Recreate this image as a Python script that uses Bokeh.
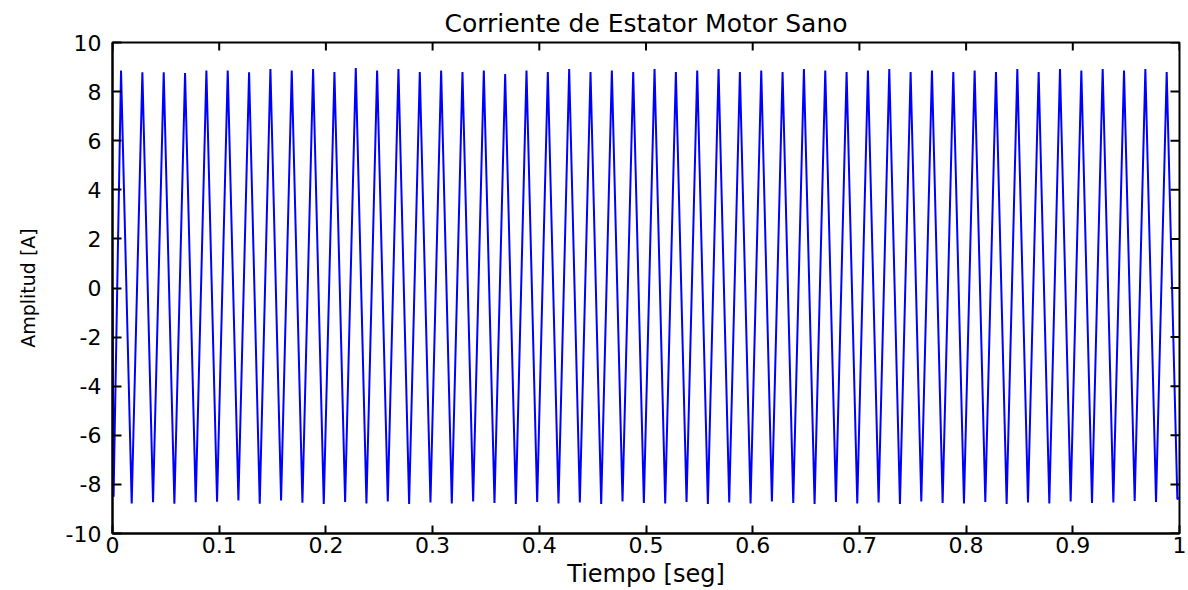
import numpy as np
from bokeh.plotting import figure
from bokeh.models import FixedTicker, Range1d
from bokeh.embed import file_html
from bokeh.resources import INLINE

# ---------------- data ----------------
title_text = "Corriente de Estator Motor Sano"
x_label = "Tiempo [seg]"
y_label = "Amplitud [A]"

x_ticks = [0, 0.1, 0.2, 0.3, 0.4, 0.5, 0.6, 0.7, 0.8, 0.9, 1.0]
x_tick_labels = ["0", "0.1", "0.2", "0.3", "0.4", "0.5", "0.6", "0.7", "0.8", "0.9", "1"]
y_ticks = [-10, -8, -6, -4, -2, 0, 2, 4, 6, 8, 10]
y_tick_labels = ["-10", "-8", "-6", "-4", "-2", "0", "2", "4", "6", "8", "10"]

# signal start / end samples
start_t = [0.0, 0.001]
start_v = [0.0, -8.5]
end_t = [1.0]
end_v = [-8.55]

# 50 Hz stator current: time of each positive / negative peak
peak_t = np.round(0.008 + 0.02 * np.arange(50), 4)
trough_t = np.round(0.018 + 0.02 * np.arange(50), 4)

# peak values per cycle (A)
peak_v = [8.86, 8.79, 8.79, 8.76, 8.86, 8.86, 8.79, 8.92, 8.86,
          8.92, 8.80, 8.96, 8.86, 8.92, 8.80, 8.86, 8.80, 8.86, 8.72, 8.86, 8.80, 8.92, 8.80,
          8.86, 8.80, 8.92, 8.80, 8.86, 8.92, 8.80, 8.86, 8.80, 8.92, 8.86, 8.80, 8.86, 8.92,
          8.80, 8.86, 8.80, 8.86,
          8.80, 8.92, 8.80, 8.92, 8.86, 8.92, 8.86, 8.92, 8.80]
# trough values per cycle (A)
trough_v = [-8.78, -8.73, -8.79, -8.73, -8.71, -8.65, -8.79, -8.65,
            -8.75, -8.80, -8.72, -8.78, -8.70, -8.80, -8.74, -8.78, -8.70, -8.76,
            -8.80, -8.72, -8.78, -8.74, -8.80, -8.70, -8.76, -8.78, -8.72, -8.80,
            -8.74, -8.78, -8.70, -8.76, -8.80, -8.72, -8.78, -8.74, -8.80, -8.70,
            -8.76, -8.78, -8.72, -8.80, -8.74, -8.78, -8.70, -8.76, -8.74,
            -8.68, -8.72, -8.60]

# ---------------- assemble the series ----------------
t_series = list(start_t)
v_series = list(start_v)
for pt, pv, tt, tv in zip(peak_t, peak_v, trough_t, trough_v):
    t_series += [float(pt), float(tt)]
    v_series += [pv, tv]
t_series += end_t
v_series += end_v

FONT = "DejaVu Sans"
x_min, x_max = x_ticks[0], x_ticks[-1]
y_min, y_max = y_ticks[0], y_ticks[-1]

p = figure(width=1188, height=590, output_backend="svg", toolbar_location=None,
           x_range=Range1d(x_min, x_max), y_range=Range1d(y_min, y_max),
           min_border_left=112, min_border_right=9, min_border_top=42, min_border_bottom=52,
           title=title_text)

p.line(t_series, v_series, line_color="#0000FF", line_width=2)

# inward ticks on the top and right sides of the box (MATLAB "box on")
p.scatter(x_ticks, [y_max] * len(x_ticks), marker="dash", size=16, angle=np.pi / 2,
          line_color="#000000", line_width=2)
p.scatter([x_max] * len(y_ticks), y_ticks, marker="dash", size=18,
          line_color="#000000", line_width=2)

p.title.align = "center"
p.title.text_font = FONT
p.title.text_font_size = "25px"
p.title.text_font_style = "normal"
p.title.text_color = "#000000"
p.title.offset = 0
p.title.standoff = 10

p.xgrid.visible = False
p.ygrid.visible = False
p.background_fill_color = "white"
p.border_fill_color = "white"
p.outline_line_color = "#000000"
p.outline_line_width = 2

xa = p.xaxis[0]
xa.ticker = FixedTicker(ticks=x_ticks)
xa.major_label_overrides = {t: l for t, l in zip(x_ticks, x_tick_labels)}
xa.axis_label = x_label
ya = p.yaxis[0]
ya.ticker = FixedTicker(ticks=y_ticks)
ya.major_label_overrides = {t: l for t, l in zip(y_ticks, y_tick_labels)}
ya.axis_label = y_label

for ax in (xa, ya):
    ax.minor_tick_line_color = None
    ax.major_tick_out = 0
    ax.major_tick_line_color = "#000000"
    ax.major_tick_line_width = 2
    ax.axis_line_color = "#000000"
    ax.axis_line_width = 2
    ax.major_label_text_font = FONT
    ax.major_label_text_font_size = "22px"
    ax.major_label_text_color = "#000000"
    ax.axis_label_text_font = FONT
    ax.axis_label_text_font_style = "normal"
    ax.axis_label_text_color = "#000000"

xa.major_tick_in = 8
xa.major_label_standoff = 3
xa.axis_label_text_font_size = "24px"
xa.axis_label_standoff = 4
ya.major_tick_in = 9
ya.major_label_standoff = 11
ya.axis_label_text_font_size = "19px"
ya.axis_label_standoff = 24

open("out.html", "w").write(file_html(p, INLINE))
